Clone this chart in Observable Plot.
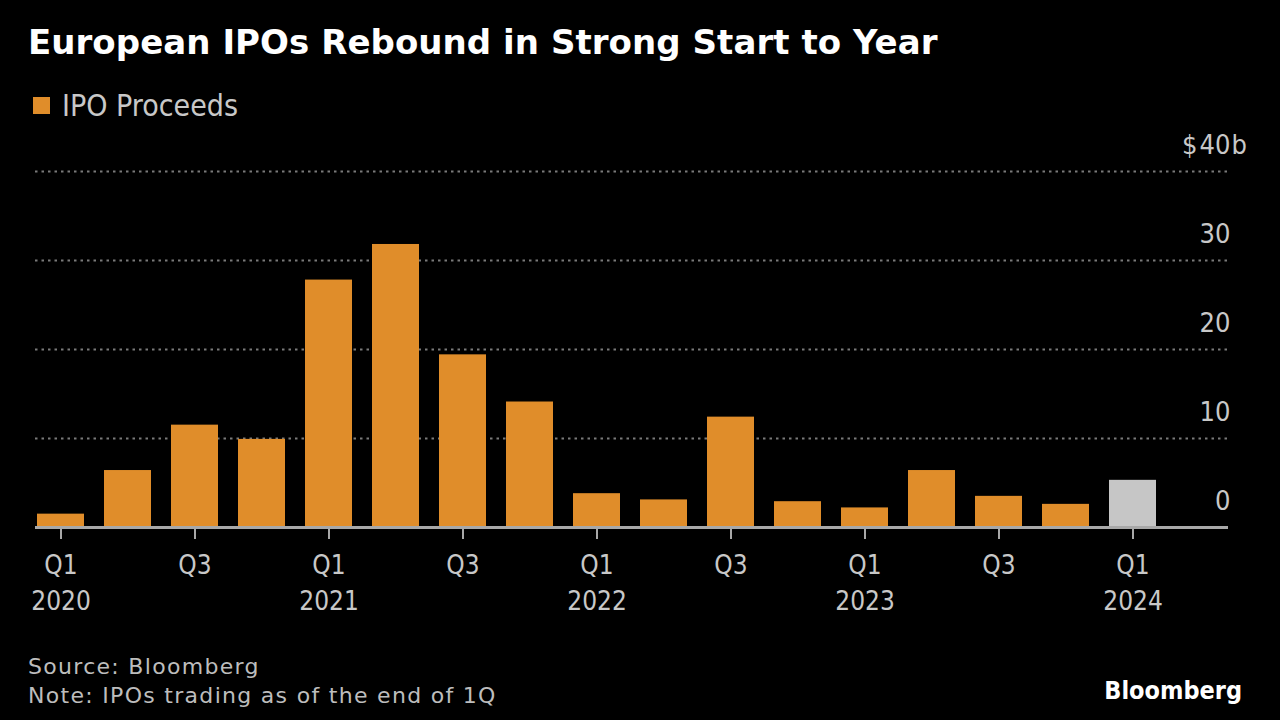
<!DOCTYPE html>
<html>
<head>
<meta charset="utf-8">
<script src="https://cdn.jsdelivr.net/npm/d3@7"></script>
<script src="https://cdn.jsdelivr.net/npm/@observablehq/plot@0.6"></script>
<style>
  html, body { margin: 0; padding: 0; background: #000; }
  #wrap { position: relative; width: 1280px; height: 720px; background: #000; overflow: hidden;
          font-family: "DejaVu Sans Condensed", "DejaVu Sans", sans-serif; }
  #title { position: absolute; left: 28px; top: 22px; color: #fff; font-family: "DejaVu Sans", sans-serif;
           font-weight: bold; font-size: 34px; white-space: nowrap; letter-spacing: 0.05px; }
  #legend { position: absolute; left: 33px; top: 88px; color: #c8c8c8; font-size: 30px; display: flex; align-items: center; }
  #legend .sw { width: 17px; height: 17px; background: #E08D2A; margin-right: 12px; }
  #chart { position: absolute; left: 0; top: 130px; }
  #source { position: absolute; left: 28px; top: 652px; color: #bdbdbd; font-family: "DejaVu Sans", sans-serif;
            font-size: 22px; letter-spacing: 1.3px; line-height: 29px; white-space: nowrap; }
  #logo { position: absolute; right: 38px; top: 676px; color: #fff; font-family: "DejaVu Sans Condensed", "DejaVu Sans", sans-serif;
          font-weight: bold; font-size: 25px; }
</style>
</head>
<body>
<div id="wrap">
  <div id="title">European IPOs Rebound in Strong Start to Year</div>
  <div id="legend"><span class="sw"></span><span>IPO Proceeds</span></div>
  <div id="chart"></div>
  <div id="source">Source: Bloomberg<br>Note: IPOs trading as of the end of 1Q</div>
  <div id="logo">Bloomberg</div>
</div>
<script>
const quarters = [
  "Q1 2020","Q2 2020","Q3 2020","Q4 2020",
  "Q1 2021","Q2 2021","Q3 2021","Q4 2021",
  "Q1 2022","Q2 2022","Q3 2022","Q4 2022",
  "Q1 2023","Q2 2023","Q3 2023","Q4 2023",
  "Q1 2024"
];
const proceeds = [1.5, 6.4, 11.5, 9.9, 27.8, 31.8, 19.4, 14.1, 3.8, 3.1, 12.4, 2.9, 2.2, 6.4, 3.5, 2.6, 5.3];
const currentQuarter = "Q1 2024";
const xTicks = ["Q1 2020","Q3 2020","Q1 2021","Q3 2021","Q1 2022","Q3 2022","Q1 2023","Q3 2023","Q1 2024"];
const yTicks = [0, 10, 20, 30, 40];
const yGrid = [10, 20, 30, 40];
const yTopLabel = 40;

const ORANGE = "#E08D2A";
const GRAY = "#C6C6C6";

const data = quarters.map((q, i) => ({quarter: q, value: proceeds[i]}));

const fmtX = q => {
  const [qq, yy] = q.split(" ");
  return qq === "Q1" ? qq + "\n" + yy : qq;
};

const chart = Plot.plot({
  width: 1280,
  height: 500,
  marginTop: 41,
  marginBottom: 103,
  marginLeft: 35,
  marginRight: 52,
  style: {background: "transparent", color: "#c8c8c8", fontFamily: "'DejaVu Sans Condensed', 'DejaVu Sans', sans-serif"},
  x: {type: "band", domain: quarters, range: [35, 1158], paddingInner: 0.3, paddingOuter: 0, axis: null, label: null},
  y: {domain: [0, 40], axis: null, label: null},
  marks: [
    Plot.ruleY(yGrid, {stroke: "#7a7a7a", strokeWidth: 2, strokeDasharray: "2.5,4"}),
    Plot.barY(data, {x: "quarter", y: "value", fill: d => d.quarter === currentQuarter ? GRAY : ORANGE}),
    Plot.ruleY([0], {stroke: "#a8a8a8", strokeWidth: 3}),
    Plot.axisX({ticks: xTicks, tickFormat: fmtX, tickSize: 12, tickPadding: 10, stroke: "#a8a8a8", strokeWidth: 2,
                fontSize: 26, lineHeight: 1.35, fill: "#c8c8c8", label: null}),
    Plot.text(yTicks, {y: d => d, text: d => String(d), frameAnchor: "right", textAnchor: "end", lineAnchor: "bottom",
                       dx: 2, dy: -18, fontSize: 27, fill: "#c8c8c8"}),
    Plot.text([yTopLabel], {y: d => d, text: () => "$", frameAnchor: "right", textAnchor: "end", lineAnchor: "bottom",
                       dx: -31, dy: -18, fontSize: 27, fill: "#c8c8c8"}),
    Plot.text([yTopLabel], {y: d => d, text: () => "b", frameAnchor: "right", textAnchor: "start", lineAnchor: "bottom",
                       dx: 3, dy: -18, fontSize: 27, fill: "#c8c8c8"})
  ]
});
document.getElementById("chart").appendChild(chart);
</script>
</body>
</html>
